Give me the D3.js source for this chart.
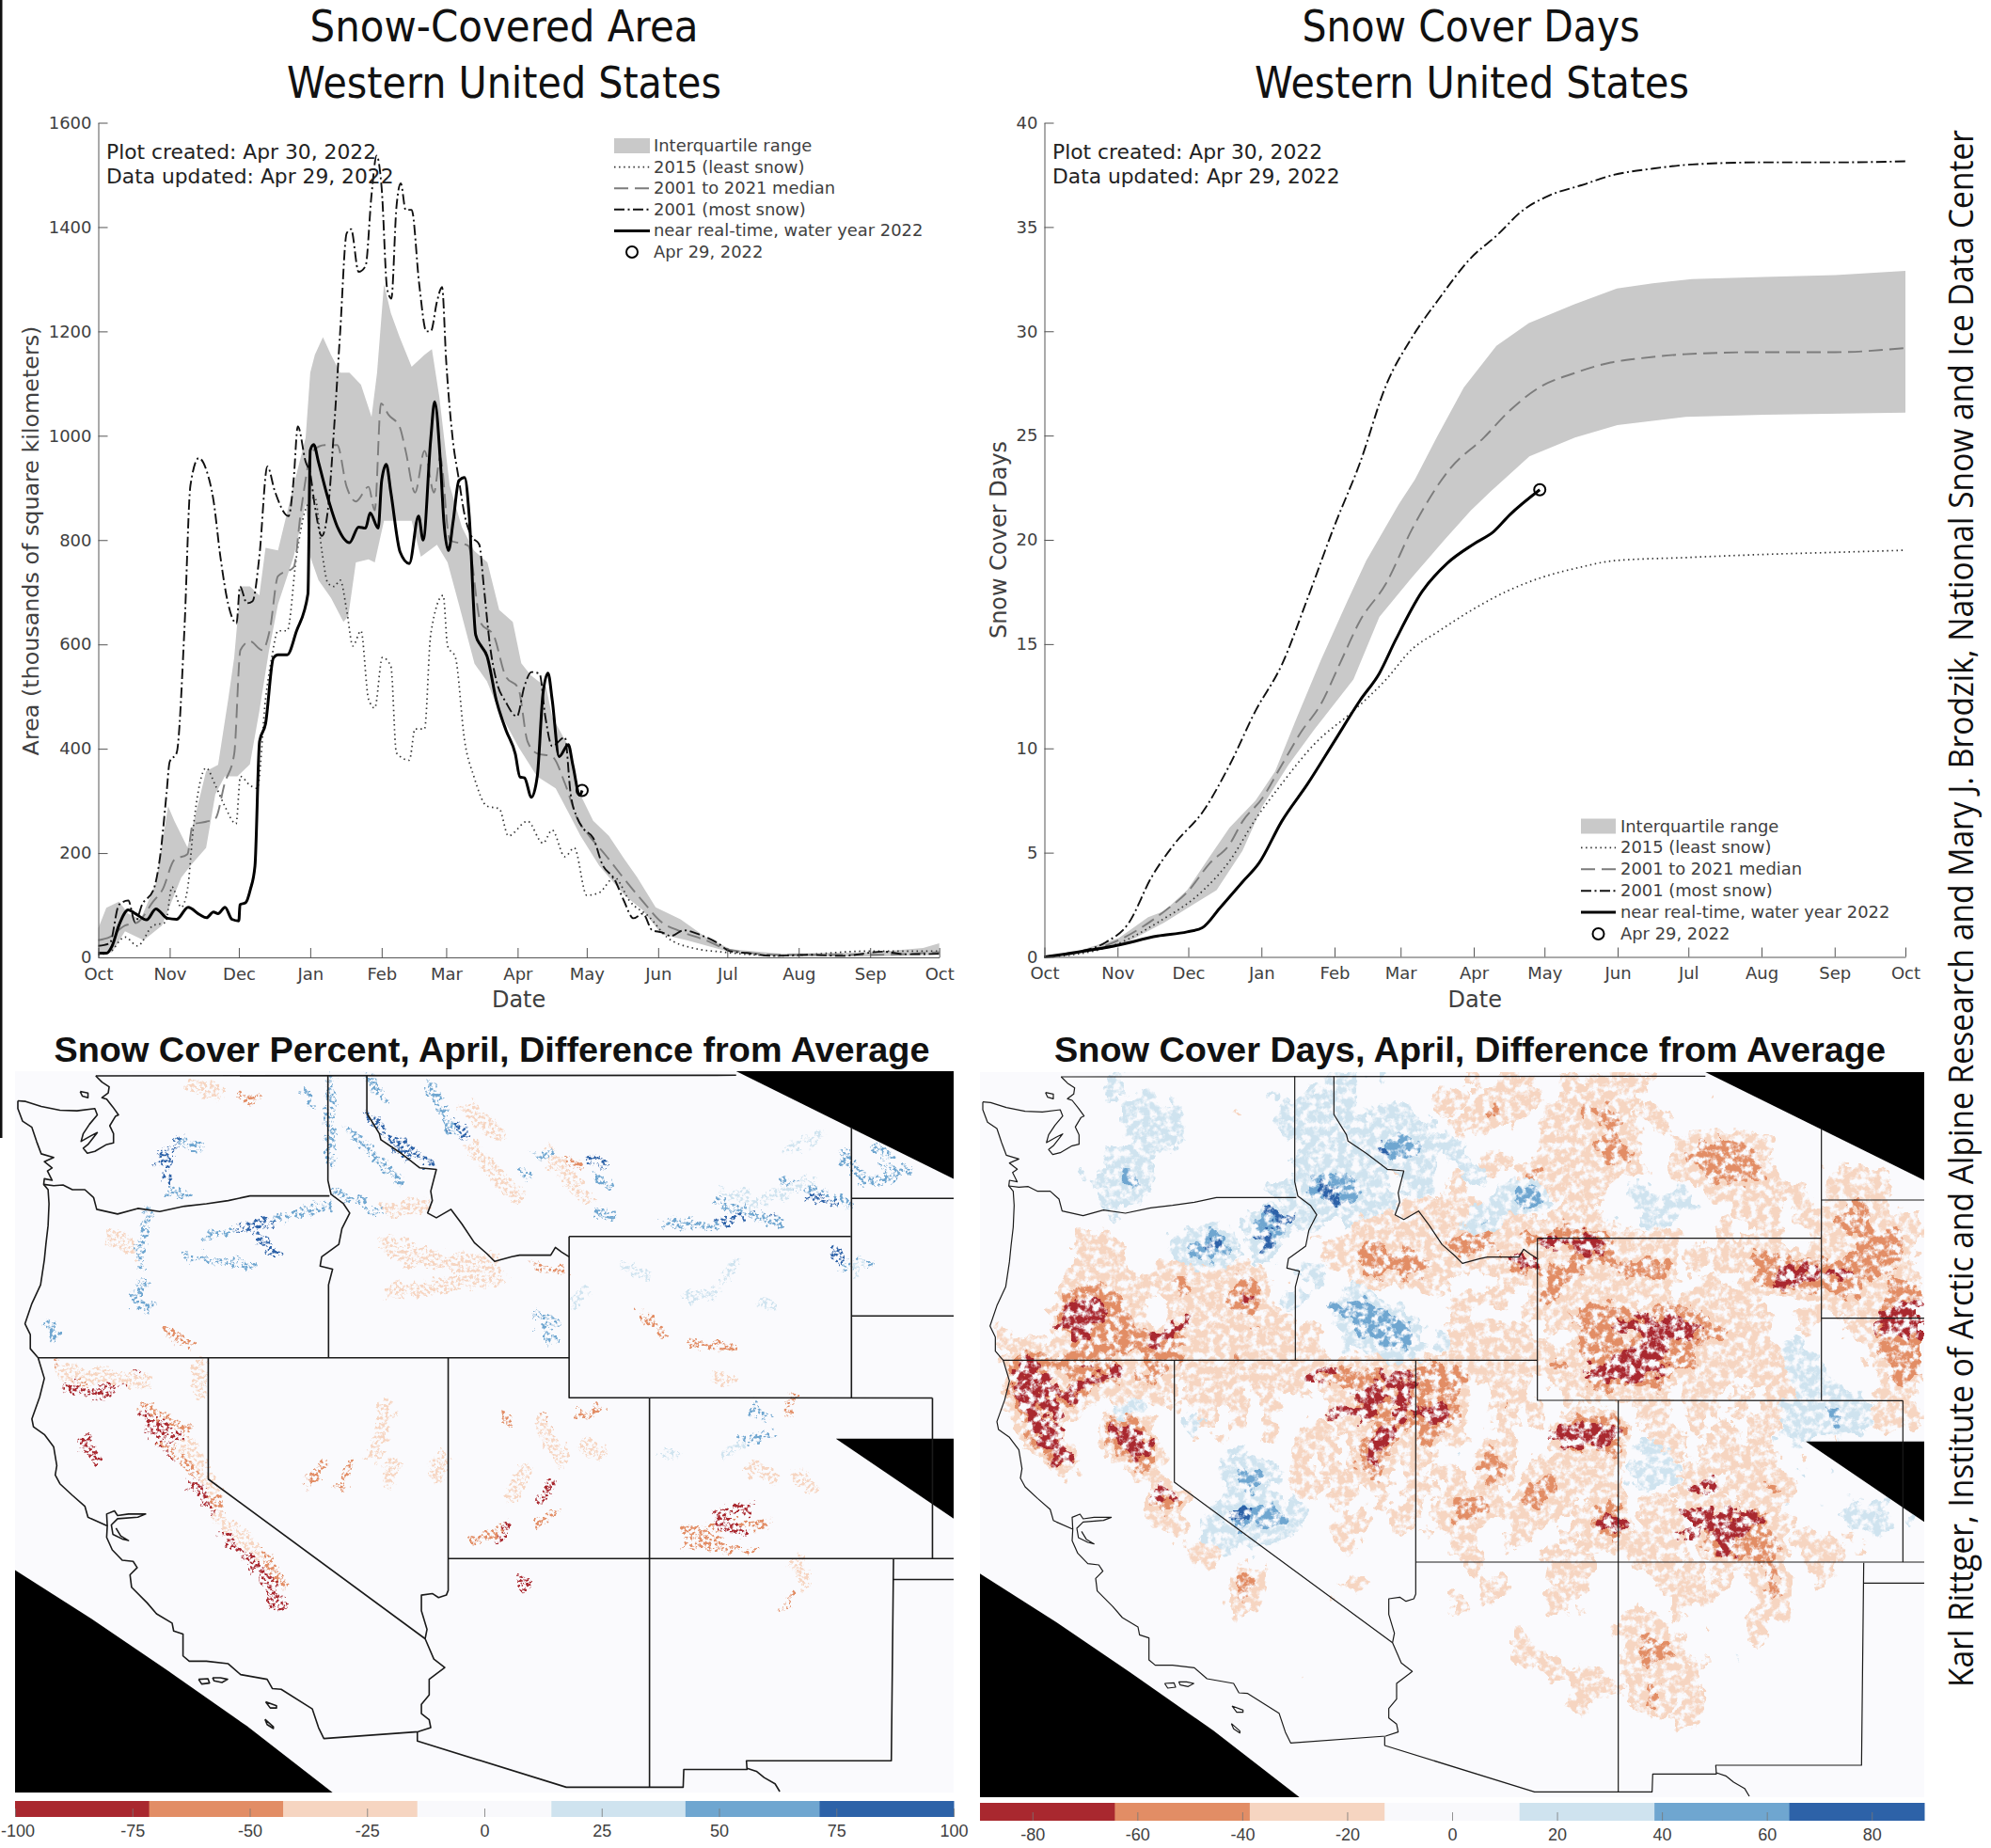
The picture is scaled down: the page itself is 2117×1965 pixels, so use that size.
<!DOCTYPE html>
<html><head><meta charset="utf-8">
<style>html,body{margin:0;padding:0;background:#fff}svg{display:block}</style>
<script src="https://cdnjs.cloudflare.com/ajax/libs/d3/7.8.5/d3.min.js"></script>
</head><body><svg id="c" width="2117" height="1965"></svg>
<script>
// ---------- chart values ----------
const monthDays=[0,31,61,92,123,151,182,212,243,273,304,335,365];
const monthNames=["Oct","Nov","Dec","Jan","Feb","Mar","Apr","May","Jun","Jul","Aug","Sep","Oct"];
const areaTicks=[0,200,400,600,800,1000,1200,1400,1600];
const dayTicks=[0,5,10,15,20,25,30,35,40];
const legendLabels=["Interquartile range","2015 (least snow)","2001 to 2021 median","2001 (most snow)","near real-time, water year 2022","Apr 29, 2022"];
const areaNrt=[[0,8],[3.5,8],[6,22],[9,62],[13,91],[16,84],[21,72],[25,93],[30,75],[34,73],[39,96],[44,82],[47,76],[50,87],[52,84],[55,96],[58,73],[61,70],[61.5,101],[64,105],[66,130],[68,175],[70,414],[72.6,448],[76,574],[78,580],[82,580],[86,625],[91,697],[92,972],[93.5,983],[95.6,949],[99.7,880],[104,823],[109,795],[113,825],[116,823],[118,852],[121.5,823],[123,914],[125,945],[127,891],[131,777],[135,755],[139,846],[141,800],[144.3,994],[146,1065],[148.5,949],[150,835],[152,780],[154,835],[156.5,914],[159,920],[161,846],[163.8,618],[166,598],[168.7,578],[172.8,492],[177,435],[181,390],[183,346],[185,344],[188,307],[190.5,346],[193,505],[195.2,545],[197,494],[200,385],[204,408],[206,368],[209,311],[210,320]];
const area2001=[[0,22],[5,27],[9,101],[13,109],[16,67],[19,101],[24,130],[27,199],[29.6,313],[31,375],[34,392],[37.4,630],[40,905],[43.6,957],[47,933],[50,876],[53,768],[56.4,677],[60,640],[61.5,711],[64.5,679],[67,683],[69.9,768],[73.4,941],[76.6,894],[82.6,846],[84.8,916],[86.6,1018],[90,950],[92,927],[94,865],[97,808],[99.7,859],[102.4,1018],[105,1200],[107.8,1388],[109.7,1396],[113,1314],[116,1325],[118.6,1462],[120.8,1537],[123,1474],[125.4,1281],[127.2,1263],[129.4,1438],[131.3,1484],[133.4,1433],[136,1433],[139.3,1290],[142.4,1200],[144.3,1200],[147,1257],[149.2,1285],[151,1143],[153.8,995],[156.5,916],[159,848],[161.9,808],[165.4,791],[167.3,712],[170,598],[172.8,530],[176.8,490],[181.7,462],[184.9,519],[188,547],[191.5,544],[194,462],[197,405],[202.5,422],[205,314],[208,266],[210.7,246],[214.8,229],[218.8,178],[224,150],[228,110],[232.3,75],[236.4,84],[240.4,52],[244.6,48],[248.6,41],[254,52],[260.8,44],[269,27],[274,12],[282,8],[293,3],[309,5],[323,3],[340.7,11],[350,6],[365,7]];
const areaMedian=[[0,33],[5,39],[11.6,61],[17,67],[23.8,107],[27.9,130],[33,187],[38.7,198],[41,255],[46.8,260],[50.8,266],[54.9,334],[59,390],[61.7,589],[65.8,606],[71.2,589],[74.5,629],[78,731],[84.8,748],[88,857],[92.9,970],[98.3,982],[103.7,982],[107.8,902],[111.8,874],[117.3,902],[120,857],[122.7,1062],[126,1040],[130.8,1017],[133.4,971],[137.5,891],[141.6,971],[145.7,891],[148.4,959],[152.5,800],[160.6,789],[166,641],[171.5,618],[176.8,539],[182.3,516],[186.3,414],[190.4,391],[197,385],[202.5,334],[207.9,266],[213.3,232],[220,197],[228,152],[236.4,107],[244.6,67],[252.7,50],[263.5,33],[274.4,14],[296,5],[336.6,5],[365,10]];
const areaQ3=[[0,56],[3.5,95],[9,107],[13,84],[18.4,73],[25,142],[30.3,290],[33,262],[38.7,211],[46.8,357],[52,369],[56.4,495],[59,575],[61.7,711],[65.8,711],[69.9,694],[72.6,785],[78,780],[84.8,905],[90,996],[92,1121],[94,1155],[97.5,1189],[101,1155],[105,1121],[109,1121],[114,1098],[118.6,1036],[121,1121],[124,1291],[127,1235],[130.8,1189],[136,1132],[141.6,1155],[144.8,1166],[148,1075],[152.5,905],[157.8,825],[163,780],[168.9,757],[174,666],[179.9,643],[183.6,564],[187.7,541],[194.4,518],[197,461],[204,405],[209,314],[214.8,262],[221.6,233],[228.4,188],[233.8,154],[241.9,96],[252.7,73],[263.5,39],[274.4,16],[296,7],[336.6,10],[358,18],[365,27]];
const areaQ1=[[0,5],[6,10],[11.6,50],[19.7,33],[27.6,61],[36,153],[40,176],[46.8,210],[50.8,313],[54.9,347],[60.4,347],[65.8,370],[69.9,472],[74,586],[78,677],[84.8,768],[90,870],[92,768],[95.6,723],[101,689],[106.4,643],[108.5,654],[111.8,757],[117.3,763],[120,757],[124,837],[130.8,837],[136,837],[140,768],[147,791],[151.6,757],[156.5,677],[163.3,563],[168.7,529],[174,472],[182.3,404],[190.4,347],[198.5,324],[203.9,279],[209.3,233],[217.4,176],[228.4,119],[236.4,90],[244.6,44],[255.4,33],[274.4,10],[296,2],[336.6,2],[365,5]];
const area2015=[[0,5],[5,10],[11.6,39],[17,22],[23.8,61],[29.2,67],[32,135],[36,96],[38.7,130],[41.4,255],[46.8,363],[50.8,330],[54.9,290],[59.8,256],[61.7,347],[65.8,330],[69,324],[72.6,495],[75.3,575],[78,626],[82,626],[86,768],[90,859],[94,882],[97,780],[99.7,717],[102.4,711],[105,723],[107.8,666],[110.5,597],[114,626],[117.3,495],[120,478],[123.3,575],[127,558],[129.4,392],[135,378],[137.5,438],[141.6,438],[144.3,620],[149.7,694],[151.6,597],[155,575],[159,415],[163,347],[168.7,290],[174,285],[178,233],[186.3,261],[193,219],[197,244],[202.5,193],[206.6,210],[212,119],[217.4,124],[224,153],[230.8,107],[239,78],[247,38],[258,18],[271.6,10],[296,3],[334,12],[365,12]];
const days2001=[[0,0],[12,.2],[26,.7],[35.6,1.6],[45.3,3.8],[55,5.4],[67.4,7],[78.5,9.2],[89.5,11.8],[100.6,14],[111.6,17.2],[122.7,20.6],[133.8,23.7],[144.8,27.4],[155.8,29.7],[166.9,31.5],[180.7,33.5],[191.8,34.6],[202.8,35.8],[213.8,36.5],[227.6,37],[241.4,37.5],[258,37.8],[274.6,38],[305,38.1],[335.7,38.1],[365,38.15]];
const daysMedian=[[0,0],[12,.15],[31.5,.8],[51,2.2],[60.5,3.1],[70.2,4.5],[78.5,5.4],[84,6.5],[92.3,7.6],[100.6,9.2],[108.9,10.8],[117.1,12.1],[125.4,14.1],[133.7,16.1],[144.8,17.9],[155.8,20.5],[171.9,23.4],[186.3,24.9],[197.3,26.2],[209.7,27.3],[224.9,28],[240,28.5],[252.4,28.7],[271.7,28.9],[304.9,29],[335.3,29],[365,29.2]];
const daysQ3=[[0,0],[12,.2],[31.5,.9],[44,1.9],[50.8,2.2],[60.5,3.2],[68.8,4.6],[78.5,6.2],[89.5,7.5],[97.8,8.9],[106,11.2],[117.1,14.2],[128.2,17],[136.4,19],[150.2,21.7],[157.1,22.9],[166.7,25],[177.8,27.3],[191.6,29.3],[205.4,30.4],[224.7,31.3],[242.7,32.05],[257.9,32.3],[274.5,32.5],[304.9,32.6],[335.3,32.7],[365,32.9]];
const daysQ1=[[0,0],[12,.1],[31.5,.5],[50.8,1.65],[73,3.2],[84,5.1],[92.3,7.2],[103.4,9.2],[114.4,10.9],[131,13.3],[142,16.3],[155.8,18.2],[169.6,20],[180.7,21.4],[189,22.3],[205.6,24],[224.9,24.9],[242.9,25.5],[271.9,25.9],[305,26],[365,26.1]];
const days2015=[[0,0],[12,.1],[31.5,.65],[48,1.65],[67.4,3.2],[78.5,4.6],[89.5,6.6],[100.6,8.3],[114.4,10.2],[131,11.8],[144.8,13.3],[155.8,14.75],[166.9,15.6],[180.7,16.6],[197.3,17.6],[211,18.2],[227.7,18.7],[241.5,19],[271.9,19.15],[305,19.3],[335.3,19.4],[365,19.5]];
const daysNrt=[[0,0],[9.4,.15],[30.7,.55],[48,1],[60.5,1.2],[66.9,1.4],[74.4,2.35],[84,3.6],[91,4.5],[100.6,6.5],[111.6,8.3],[122.7,10.3],[133.8,12.3],[142,13.6],[148.9,15.2],[160,17.5],[171,18.9],[182,19.8],[190.5,20.4],[197.3,21.2],[210,22.4]];
// map legends
const binColors=["#a9282f","#e28d65","#f6d5c1","#f9f9fc","#cfe3ef","#6fa6d0","#2d62a8"];
const percentTicks=[-100,-75,-50,-25,0,25,50,75,100];
const daysDiffTicks=[-80,-60,-40,-20,0,20,40,60,80];
// snow-cover-days difference read on a coarse 60x46 grid: 1-3 loss classes, a-c gain classes
const daysDiffGrid=[
"........a. .......... ..aa.a.... .1.11..1.1 111....... ..........",
"........a. a.......a. aaaa.....1 1.1.11.111 11....1... ..........",
".........a aaa...1..a aaaa.aaa.1 .1221.1122 2.11...... ..........",
".........a aaa......a aaaaaaaaa. 111...11.1 21.1...... ..........",
".......... aaa....... aaaaaabbaa a.....2112 21..112221 1.........",
"........ba a......... aaaaaabba. a.11..1111 22..122222 ..........",
"......a.ab a......... aabaaa1aa. 1b1.1312.1 1.1.112222 1...1111..",
".......aab a.......aa abccaa.aa. 1..abb1.21 .aa.a.1111 111.1111..",
"........a. .......... aaaaaaa111 11aabb.11. ..aaaa..11 1.1.1121..",
"........a. .......bcc aa.a111111 1bb11.1111 a.aa...1.1 1.11222.11",
"......11.. ..aabb..c. .1.1111111 2221222322 11111..1.1 1..1112221",
"......112. ..abcc.ab. ..11221211 2212.1.133 2.11.11122 11.1.1222.",
"......111. .1111111.. aa1.222221 1.1132222. 2233.1.1.2 2333332211",
".....11112 1122.122.1 .a..11.111 ...1..2211 1112..1..2 2332221121",
".....23321 1.111133.a a..bb..... 1111.22.11 1..1.1112. ....121122",
".....33322 ..11111111 ...bbbb... 1....1.222 33.3321.11 1.11.1.233",
".1...33222 2.3.2.1211 11.abbbb.a 11111.1.22 2.33333211 ..1..11233",
".111..3122 223.111111 11.a.bbb.a 111111..22 223322.111 1aa....222",
"..33331211 1221113.11 11.1111111 1111112212 3332221111 1aaa...222",
"..33..3321 22.1.1.111 1.3322.333 3.2.1.1113 3332.111.1 11aa....22",
"..33333.11 11.1111.1. 1.1.3333.1 2..21..111 1111.11.1. 11aaaa.11.",
"..33.2..aa a.1.1.1.1. ..1133.333 2..2.1.... ..11.11.1. 1aaabaa111",
"...33...33 1..b1.1.1. .1.1.23223 1..2.1.333 3.11.1.1.1 1aaabaa111",
"...33...33 3..1.1..1. 111.233.3. 1..1...333 3.a11.11.1 a.a.1.....",
"....33...3 31....b... 1.1.33.11. a.31.1.1.1 1.aa1.1111 1.1.......",
".....1.... 2....aabb. 2.1.22.1.1 1.32.11111 1aaaa11.11 1.a.a.....",
".......... .2....bb.. 11.2.1.11. 1.1..33.11 1.a.11.111 22......a.",
".......... .33..aa.b. a.1..1.1.1 222.22.1.1 2.11.11..1 1a.a.a.a..",
".......... .11.aaccbb a..11.11.1 22.1.11.13 3.111.2333 .1...aaa.a",
".......... ..1.aaa.aa ..11..1.1. 1...2..1.2 3.111.3332 2.11.1.a..",
".......... ...12a.a.. ...1...... 11.1..1.1. .1111.1322 2.111.1...",
".......... ....1..1.. .......... .1....111. ..11.1.1.1 2..11.....",
".......... ......22.. ...11..... ..11...11. ...111.1.1 21.1......",
".......... ......21.. ..1....... 1.1...11.. ....111... 21........",
".......... ......1... .......... 1.....1.1. .11.1....1 11........",
".......... .......... .......... ....1..... 1111..1..1 ..........",
".......... .......... .......... ....1..... .1221....1 ..........",
".......... .......... .......... ....111... .1221.1.a. ..........",
".......... .......... 1......... ......1111 .11.21.... ..........",
".......... .......... .......... ........11 1.22.2.... ..........",
".......... .......... .......... .......11. ..21.1.... ..........",
".......... .......... .......... .......... ....11.... ..........",
".......... .......... .......... .......... .......... ..........",
".......... .......... .......... .......... .......... ..........",
".......... .......... .......... .......... .......... ..........",
".......... .......... .......... .......... .......... .........."];
// strongest snow-cover-days patches, read as streaks: [x1,y1,x2,y2,bin]
const daysDiffStreaks=[[150,960,300,1060,0],[130,1000,250,1100,0],[170,1030,280,1040,0],[330,1000,440,970,0],[300,1040,400,980,0],[130,1060,270,1170,0],[160,1120,280,1230,0],[200,1155,280,1260,0],[320,750,290,870,0],[260,820,360,770,0],[630,820,560,880,0],[660,810,620,830,0],[1060,990,1130,970,0],[1190,1040,1280,1040,0],[1240,1100,1130,1100,0],[1370,990,1280,980,0],[1340,1000,1350,1120,0],[1210,1110,1300,1040,0],[450,1150,540,1190,0],[470,1155,530,1240,0],[570,1360,610,1355,0],[2040,820,2250,860,0],[2100,790,2250,850,0],[2170,870,2280,840,0],[1950,970,2180,960,0],[2010,950,2110,930,0],[2560,680,2650,640,0],[2540,690,2610,680,0],[2710,660,2770,650,0],[1780,640,1730,610,0],[1800,560,1960,560,0],[1930,530,1980,570,0],[2880,790,3010,750,0],[2860,830,2900,810,0],[1840,1180,2020,1190,0],[1850,1160,2010,1160,0],[1870,1200,1990,1200,0],[2270,1340,2360,1330,0],[2000,1440,2050,1450,0],[2265,1430,2350,1420,0],[2250,1490,2400,1420,0],[2430,1420,2470,1415,0],[2440,1420,2480,1440,0],[2370,1540,2390,1550,0],[1130,760,1190,790,5],[1200,830,1340,860,5],[1120,770,1250,810,5],[810,1425,860,1425,6],[900,1410,950,1445,5],[720,565,770,570,6],[930,470,1000,490,6],[895,530,920,570,6],[1100,385,1140,420,6],[1280,250,1310,265,6]];
// snow-cover-percent difference read as short streaks: [x1,y1,x2,y2,bin]
const percentStreaks=[
[235,740,300,800,0],[240,770,280,820,0],[265,800,330,870,1],[250,760,290,790,0],[310,875,370,960,0],[340,900,390,1000,1],[360,970,440,1060,0],[415,1040,450,1105,0],[430,1060,440,1105,0],[110,690,160,710,0],[150,700,225,670,0],[135,790,155,830,0],[90,650,130,680,1],[230,730,300,770,1],[300,800,340,880,2],[350,940,420,1010,2],[420,1000,455,1070,1],[835,1060,845,1070,0],[838,1055,842,1072,0],
[495,870,520,840,1],[545,880,560,840,1],[620,870,630,840,2],[700,860,710,820,2],[620,730,600,820,2],[810,750,815,760,1],[870,750,880,760,1],[930,745,960,735,1],[870,760,900,830,2],[940,800,960,815,2],[800,980,815,950,0],[860,950,890,930,1],[820,900,840,850,2],[870,900,885,880,0],[760,985,800,960,1],[1100,960,1150,990,1],[1150,930,1200,920,0],[1100,990,1210,1000,1],[1130,960,1230,950,1],[1150,940,1190,970,0],[1280,1020,1290,1060,2],[1260,1110,1270,1090,1],[1265,740,1270,710,1],[1280,860,1300,880,2],[1210,850,1240,860,2],[1030,550,1065,595,1],[1110,605,1175,615,1],[1150,670,1165,680,2],[620,355,680,345,2],[900,260,930,270,1],[860,460,900,470,1],[310,120,350,130,2],[390,140,410,145,1],[190,410,210,420,1],[180,400,215,430,2],[270,590,305,610,1],[630,510,800,480,2],[620,420,780,470,2],[880,250,940,330,2],[750,160,800,210,2],[100,660,230,680,2],[320,650,320,700,2],[650,450,790,450,2],[760,240,830,330,2],
[250,265,290,220,6],[270,250,270,320,6],[270,320,300,325,5],[290,225,320,235,5],[330,405,370,395,5],[380,390,440,375,6],[440,370,530,345,5],[410,400,445,440,6],[300,440,400,460,5],[235,360,225,460,5],[230,490,215,520,5],[215,530,240,540,5],[80,570,90,600,5],[530,100,530,260,5],[490,130,500,155,5],[590,170,650,250,6],[640,220,690,270,6],[540,320,610,360,5],[560,200,640,300,5],[690,120,730,210,5],[730,190,745,215,6],[590,100,620,150,5],[860,245,880,250,5],[950,260,970,265,6],[840,285,850,290,5],[955,295,980,310,5],[960,360,980,365,5],[1160,320,1200,330,4],[1150,380,1210,360,6],[1240,370,1250,380,6],[1350,240,1385,300,5],[1355,260,1380,280,5],[1255,300,1360,340,5],[1300,330,1340,340,6],[1400,235,1430,250,5],[1390,300,1430,295,5],[1420,275,1460,280,5],[1260,240,1320,210,4],[1065,378,1150,385,5],[1340,430,1345,445,6],[1355,460,1395,455,5],[1380,455,1370,480,4],[860,550,890,570,5],[870,575,885,600,5],[920,530,940,500,4],[1040,480,1000,460,4],[1100,520,1150,510,4],[1160,490,1180,450,4],[1220,530,1235,540,4],[1205,735,1230,745,5],[1210,725,1228,750,5],[1190,790,1235,780,5],[1160,820,1190,800,4],[1065,815,1080,820,4],[1190,350,1300,300,4],[1150,340,1250,380,5]];
// state and coast outlines, read on the same grid
const coast=[[15,110],[15,135],[30,175],[60,195],[75,240],[90,280],[130,292],[100,305],[125,325],[110,335],[125,365],[100,360],[98,378],[112,395],[115,440],[112,510],[105,570],[100,620],[88,700],[60,760],[38,825],[55,860],[55,905],[80,934],[100,1000],[85,1060],[60,1130],[65,1155],[100,1180],[130,1220],[140,1280],[135,1310],[150,1338],[190,1375],[230,1410],[240,1445],[250,1450],[302,1473],[300,1510],[318,1550],[350,1583],[385,1587],[398,1607],[375,1630],[380,1670],[430,1720],[460,1755],[510,1785],[515,1810],[545,1820],[545,1890],[565,1907],[620,1907],[690,1915],[730,1950],[815,1965],[832,1995],[860,1997],[960,2060],[980,2120],[997,2155],[1300,2133],[1340,2120],[1335,2095],[1310,2075],[1310,2045],[1335,2015],[1335,1965],[1385,1927],[1350,1900],[1322,1835],[1328,1805],[1310,1745],[1310,1695],[1345,1690],[1365,1703],[1390,1695],[1396,1680],[1396,934]];
const sound=[[15,110],[40,112],[90,128],[150,140],[205,142],[262,135],[270,155],[245,185],[225,215],[218,240],[250,222],[270,212],[240,250],[225,262],[238,278],[262,272],[300,250],[322,245],[322,215],[310,190],[328,160],[338,155],[320,130],[300,105],[285,100],[305,85],[308,65],[285,50],[265,30]];
const borders=[
[[265,30],[2320,28]],
[[98,378],[130,382],[160,380],[190,395],[230,395],[258,420],[268,458],[335,473],[400,455],[470,465],[550,448],[620,440],[690,430],[760,415],[1015,415]],
[[1010,28],[1010,365],[1020,410],[1060,440],[1080,470],[1055,520],[1045,570],[990,610],[985,640],[1025,650],[1012,700],[1012,934]],
[[1135,28],[1135,150],[1175,215],[1180,235],[1240,275],[1305,325],[1358,330],[1340,400],[1345,430],[1330,470],[1358,485],[1405,458],[1440,505],[1480,565],[1520,600],[1545,625],[1600,610],[1625,605],[1680,605],[1725,605],[1740,580],[1760,595],[1784,610]],
[[80,934],[1784,934]],[[626,934],[626,1323],[1322,1835]],
[[1784,545],[1784,1062],[2042,1062]],[[1784,545],[2688,545]],[[2690,195],[2690,1063]],[[2042,1062],[2950,1063]],[[2042,1062],[2042,2311]],
[[2690,423],[3018,423]],[[2690,800],[3018,800]],[[2950,1063],[2950,1578]],[[1396,1578],[3018,1578]],[[2825,1580],[2818,2226],[2353,2226],[2355,2254],[2152,2254],[2150,2311],[1775,2311],[1297,2163],[1297,2135]],[[2823,1645],[3018,1645]],
[[2355,2250],[2385,2260],[2410,2280],[2445,2300],[2460,2325]],
[[302,1473],[300,1435],[325,1425],[335,1440],[370,1435],[425,1435],[400,1445],[335,1450],[315,1470],[320,1500],[350,1515],[370,1520],[345,1505],[330,1480]]];
const islands=[[[215,80],[240,85],[240,100],[222,95],[215,80]],[[595,1965],[625,1963],[630,1977],[605,1980],[595,1965]],[[640,1960],[665,1960],[688,1965],[670,1975],[645,1970],[640,1960]],[[810,2037],[845,2050],[845,2057],[825,2057],[810,2037]],[[808,2093],[835,2117],[835,2123],[815,2110],[808,2093]]];
const noData=[[[2320,15],[3018,15],[3018,360]],[[2640,1193],[3018,1193],[3018,1450]],[[6,1615],[250,1770],[500,1940],[750,2115],[1025,2328],[6,2328]]];
const gridExtent={u:[6,3018],v:[15,2328]};

// ---------- drawing ----------
const svg=d3.select("#c");
const sansFont="'DejaVu Sans',sans-serif", titleFont="'Open Sans',sans-serif", boldFont="'Liberation Sans',Arial,sans-serif";
const ink="#404040";
svg.append("defs").html(`
<filter id="speckleR" filterUnits="userSpaceOnUse" x="1030" y="1130" width="1030" height="790" color-interpolation-filters="sRGB">
 <feTurbulence type="fractalNoise" baseFrequency="0.07" numOctaves="3" seed="3" result="n"/>
 <feDisplacementMap in="SourceGraphic" in2="n" scale="26" xChannelSelector="R" yChannelSelector="G" result="d"/>
 <feTurbulence type="fractalNoise" baseFrequency="0.13" numOctaves="4" seed="8" result="m"/>
 <feColorMatrix in="m" type="matrix" values="0 0 0 0 0 0 0 0 0 0 0 0 0 0 0 4.5 0 0 0 -1.55" result="mask"/>
 <feComposite in="d" in2="mask" operator="in"/>
</filter>
<filter id="speckleL" filterUnits="userSpaceOnUse" x="10" y="1130" width="1010" height="790" color-interpolation-filters="sRGB">
 <feTurbulence type="fractalNoise" baseFrequency="0.1" numOctaves="3" seed="5" result="n"/>
 <feDisplacementMap in="SourceGraphic" in2="n" scale="18" xChannelSelector="R" yChannelSelector="G" result="d"/>
 <feTurbulence type="fractalNoise" baseFrequency="0.3" numOctaves="3" seed="11" result="m"/>
 <feColorMatrix in="m" type="matrix" values="0 0 0 0 0 0 0 0 0 0 0 0 0 0 0 6 0 0 0 -2.75" result="mask"/>
 <feComposite in="d" in2="mask" operator="in"/>
</filter>`);
svg.append("rect").attr("x",0).attr("y",0).attr("width",2.5).attr("height",1210).attr("fill","#111");

function stretchedText(x,y,s,len,size,font,weight){
  return svg.append("text").attr("x",x).attr("y",y).attr("text-anchor","middle").attr("font-family",font).attr("font-size",size)
    .attr("font-weight",weight||400).attr("fill","#111").attr("textLength",len).attr("lengthAdjust","spacingAndGlyphs").text(s);
}
stretchedText(536,44,"Snow-Covered Area",413,46,sansFont);
stretchedText(536,104,"Western United States",462,46,sansFont);
stretchedText(1564,44,"Snow Cover Days",359,46,sansFont);
stretchedText(1565,104,"Western United States",462,46,sansFont);
stretchedText(523,1129,"Snow Cover Percent, April, Difference from Average",931,36,boldFont,700);
stretchedText(1563,1129,"Snow Cover Days, April, Difference from Average",884,36,boldFont,700);
svg.append("text").attr("transform","translate(2098,966) rotate(-90)").attr("text-anchor","middle").attr("font-family",titleFont)
  .attr("font-size",36).attr("fill","#111").attr("textLength",1656).attr("lengthAdjust","spacingAndGlyphs")
  .text("Karl Rittger, Institute of Arctic and Alpine Research and Mary J. Brodzik, National Snow and Ice Data Center");

function linePlot(o){
  const x=d3.scaleLinear().domain([0,365]).range(o.xr), y=d3.scaleLinear().domain(o.yd).range(o.yr);
  const g=svg.append("g");
  const line=d3.line().x(d=>x(d[0])).y(d=>y(d[1]));
  const smooth=d3.line().x(d=>x(d[0])).y(d=>y(d[1])).curve(d3.curveMonotoneX);
  g.append("path").attr("d",line(o.q3.concat(o.q1.slice().reverse()))+"Z").attr("fill","#c9c9c9");
  const styles=[[o.s2015,"#333",1.7,"1.5 3.6"],[o.median,"#7c7c7c",1.9,"15 7"],[o.s2001,"#111",1.9,"11 3.5 2 3.5"],[o.nrt,"#000",3,null]];
  styles.forEach(s=>g.append("path").attr("d",smooth(s[0])).attr("fill","none").attr("stroke",s[1]).attr("stroke-width",s[2]).attr("stroke-dasharray",s[3]));
  const last=o.nrt[o.nrt.length-1];
  g.append("circle").attr("cx",x(last[0])).attr("cy",y(last[1])).attr("r",6).attr("fill","none").attr("stroke","#000").attr("stroke-width",2);
  const ax=g.append("g").attr("transform",`translate(0,${o.yr[0]})`).call(d3.axisBottom(x).tickValues(monthDays).tickFormat((d,i)=>monthNames[i]).tickSize(-10).tickSizeOuter(0).tickPadding(11));
  const ay=g.append("g").attr("transform",`translate(${o.xr[0]},0)`).call(d3.axisLeft(y).tickValues(o.ticks).tickFormat(d=>String(d)).tickSize(-10).tickSizeOuter(0).tickPadding(7));
  [ax,ay].forEach(a=>{a.selectAll("text").attr("font-family",sansFont).attr("font-size",18).attr("fill",ink);a.selectAll("line,path").attr("stroke","#555");});
  g.append("text").attr("x",(o.xr[0]+o.xr[1])/2).attr("y",1071).attr("text-anchor","middle").attr("font-family",sansFont).attr("font-size",24).attr("fill",ink).text("Date");
  g.append("text").attr("transform",`translate(${o.ylx},${o.ylc}) rotate(-90)`).attr("text-anchor","middle").attr("font-family",sansFont).attr("font-size",o.ylf).attr("fill",ink).text(o.ylabel);
  ["Plot created: Apr 30, 2022","Data updated: Apr 29, 2022"].forEach((t,i)=>g.append("text").attr("x",o.xr[0]+8.5).attr("y",169+i*26).attr("font-family",sansFont).attr("font-size",21.8).attr("fill","#222").text(t));
  // legend
  const L=o.leg;
  legendLabels.forEach((t,i)=>{
    const ly=L.y+i*L.dy;
    g.append("text").attr("x",L.tx).attr("y",ly+6).attr("font-family",sansFont).attr("font-size",17.9).attr("fill",ink).text(t);
    if(i===0) g.append("rect").attr("x",L.x0).attr("y",ly-8).attr("width",L.x1-L.x0).attr("height",16).attr("fill","#c9c9c9");
    else if(i<5){const s=styles[i===1?0:i===2?1:i===3?2:3];
      g.append("line").attr("x1",L.x0).attr("x2",L.x1).attr("y1",ly).attr("y2",ly).attr("stroke",s[1]).attr("stroke-width",s[2]).attr("stroke-dasharray",s[3]);}
    else g.append("circle").attr("cx",(L.x0+L.x1)/2).attr("cy",ly).attr("r",6).attr("fill","none").attr("stroke","#000").attr("stroke-width",2);
  });
}
linePlot({xr:[104.5,998.7],yr:[1018,130.5],yd:[0,1600],ticks:areaTicks,q3:areaQ3,q1:areaQ1,s2015:area2015,median:areaMedian,s2001:area2001,nrt:areaNrt,ylabel:"Area (thousands of square kilometers)",ylx:41,ylc:575,ylf:23.8,leg:{x0:653,x1:691,tx:695,y:155,dy:22.6}});
linePlot({xr:[1110.5,2026],yr:[1017.5,130.5],yd:[0,40],ticks:dayTicks,q3:daysQ3,q1:daysQ1,s2015:days2015,median:daysMedian,s2001:days2001,nrt:daysNrt,ylabel:"Snow Cover Days",ylx:1070,ylc:574,ylf:24,leg:{x0:1681,x1:1718,tx:1723,y:878.5,dy:22.9}});

function mapPanel(o,id){
  const xU=d3.scaleLinear().domain(gridExtent.u).range(o.x), yV=d3.scaleLinear().domain(gridExtent.v).range(o.y);
  svg.append("clipPath").attr("id",id).append("rect").attr("x",o.x[0]).attr("y",o.y[0]).attr("width",o.x[1]-o.x[0]).attr("height",o.y[1]-o.y[0]);
  const g=svg.append("g").attr("clip-path",`url(#${id})`);
  g.append("rect").attr("x",o.x[0]).attr("y",o.y[0]).attr("width",o.x[1]-o.x[0]).attr("height",o.y[1]-o.y[0]).attr("fill","#fafafd");
  o.draw(g,xU,yV);
  const line=d3.line().x(d=>xU(d[0])).y(d=>yV(d[1]));
  noData.forEach(p=>g.append("path").attr("d",line(p)+"Z").attr("fill","#000"));
  const out=g.append("g").attr("fill","none").attr("stroke","#1a1a1a").attr("stroke-width",o.sw).attr("stroke-linejoin","round");
  [coast,sound].concat(borders,islands).forEach(p=>out.append("path").attr("d",line(p)));
  // colour bar
  const c=d3.scaleLinear().domain(o.range).range(o.x);
  const step=(o.range[1]-o.range[0])/7;
  binColors.forEach((col,i)=>svg.append("rect").attr("x",c(o.range[0]+i*step)).attr("y",o.by).attr("width",c(o.range[0]+step)-c(o.range[0])+.5).attr("height",o.bh).attr("fill",col));
  const a=svg.append("g").attr("transform",`translate(0,${o.by+o.bh})`).call(d3.axisBottom(c).tickValues(o.ticks).tickFormat(d=>String(d)).tickSize(-9).tickSizeOuter(0).tickPadding(8));
  a.select(".domain").remove();
  a.selectAll("line").attr("stroke","#777").attr("stroke-width",.8);
  a.selectAll("text").attr("font-family",boldFont).attr("font-size",18).attr("fill",ink);
  if(o.ticks[0]===-100) a.select(".tick text").attr("dx",2.5);
}
mapPanel({x:[16,1014],y:[1139,1906],sw:1.6,range:[-100,100],ticks:percentTicks,by:1915,bh:17,draw(g){
  const sx=d3.scaleLinear().domain([24,1530]).range([16,1014]), sy=d3.scaleLinear().domain([90,1462]).range([1139,1906]);
  const layer=g.append("g").attr("filter","url(#speckleL)").attr("stroke-linecap","round");
  layer.selectAll("line").data(percentStreaks).join("line")
   .attr("x1",d=>sx(d[0])).attr("y1",d=>sy(d[1])).attr("x2",d=>sx(d[2])).attr("y2",d=>sy(d[3]))
   .attr("stroke",d=>binColors[d[4]]).attr("stroke-width",d=>d[4]===0?11:d[4]===2?16:9);
}},"mapL");
mapPanel({x:[1042,2046],y:[1140,1911],sw:1.2,range:[-90,90],ticks:daysDiffTicks,by:1917,bh:19,draw(g,xU,yV){
  const rows=daysDiffGrid.map(r=>r.replace(/ /g,"").padEnd(60,"."));
  const w=60,h=rows.length,up=3,W=w*up,H=h*up;
  const field=keys=>{const a=new Float64Array(W*H);for(let j=0;j<H;j++)for(let i=0;i<W;i++){const k=rows[Math.floor(j/up)][Math.floor(i/up)];a[j*W+i]=keys.indexOf(k)+1;}d3.blur2({data:a,width:W},.7);return a;};
  const path=d3.geoPath(d3.geoTransform({point(px,py){this.stream.point(xU(6+px/up*50),yV(15+py/up*50));}}));
  const layer=g.append("g").attr("filter","url(#speckleR)");
  [["123",[2,1,0]],["abc",[4,5,6]]].forEach(([keys,bins])=>{
    d3.contours().size([W,H]).thresholds([.5,1.5,2.5])(field(keys)).forEach((ct,i)=>{
      layer.append("path").attr("d",path(ct)).attr("fill",binColors[bins[i]]);
    });
  });
  layer.selectAll("line").data(daysDiffStreaks).join("line").attr("stroke-linecap","round")
    .attr("x1",d=>xU(d[0])).attr("y1",d=>yV(d[1])).attr("x2",d=>xU(d[2])).attr("y2",d=>yV(d[3]))
    .attr("stroke",d=>binColors[d[4]]).attr("stroke-width",10);
}},"mapR");
</script></body></html>
